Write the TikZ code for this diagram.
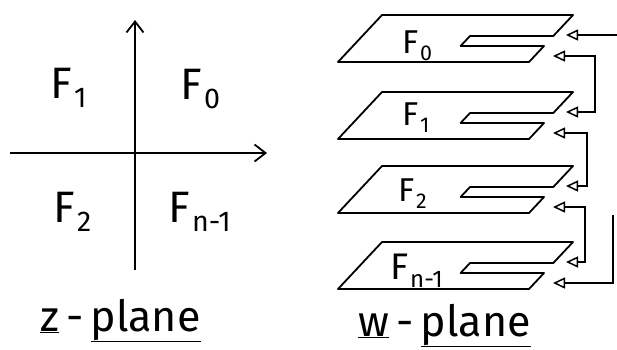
\documentclass[tikz,border=0pt]{standalone}
\usepackage{fontspec}
\usepackage{graphicx}
\setmainfont{Fira Sans}
\usetikzlibrary{arrows.meta}
\newcommand{\FF}[1]{F\kern0.05em\raisebox{-0.22em}{\scalebox{0.65}{#1}}}
\newcommand{\drawsheet}[2]{%
  \coordinate (#1tl) at (382,#2);
  \coordinate (#1tr) at (573,#2);
  \coordinate (#1ra) at (553.3,{#2+21});
  \coordinate (#1sa) at (470,{#2+21});
  \coordinate (#1sb) at (460.6,{#2+31});
  \coordinate (#1rb) at (544,{#2+31});
  \coordinate (#1br) at (529,{#2+47});
  \coordinate (#1bl) at (338,{#2+47});
  \draw[sheet] (#1tl) -- (#1tr) -- (#1ra) -- (#1sa) -- (#1sb) -- (#1rb) -- (#1br) -- (#1bl) -- cycle;
  \coordinate (#1up) at (566,{#2+20});
  \coordinate (#1lo) at (553,{#2+41});
}
\begin{document}
\begin{tikzpicture}[x=1pt,y=-1pt,
  axis/.style={line width=2pt,-{Straight Barb[length=11pt,width=17pt,line width=1.8pt]}},
  sheet/.style={line width=1.8pt,line join=round},
  glue/.style={line width=1.7pt,{Triangle[open,length=12pt,width=11pt,line width=1.5pt]}-{Triangle[open,length=12pt,width=11pt,line width=1.5pt]}},
  feed/.style={line width=1.7pt,-{Triangle[open,length=12pt,width=11pt,line width=1.5pt]}},
  biglab/.style={anchor=base west,inner sep=0pt,font=\fontsize{44}{44}\selectfont},
  smalllab/.style={anchor=base west,inner sep=0pt,font=\fontsize{33}{33}\selectfont},
  caption/.style={anchor=base west,inner sep=0pt,font=\fontsize{43}{50}\selectfont}]
\useasboundingbox (0,0) rectangle (617,349);
\fill[white] (0,0) rectangle (617,349);
% z-plane
\coordinate (yb) at (135,270);
\coordinate (yt) at (135,20);
\coordinate (xl) at (10,153);
\coordinate (xr) at (267,153);
\draw[axis] (yb) -- (yt);
\draw[axis] (xl) -- (xr);
\node[biglab] (zF1) at (50,98) {\FF{1}};
\node[biglab] (zF0) at (180,99) {\FF{0}};
\node[biglab] (zF2) at (53,222) {\FF{2}};
\node[biglab] (zFn) at (168,222) {\FF{n-1}};
\node[caption] (zcap) at (40,331) {\underline{z}\,-\,\underline{plane}};
% w-plane sheets
\drawsheet{s0}{15}
\drawsheet{s1}{92}
\drawsheet{s2}{166}
\drawsheet{s3}{242}
\node[smalllab] (wF0) at (402,53) {\FF{0}};
\node[smalllab] (wF1) at (402,125) {\FF{1}};
\node[smalllab] (wF2) at (398,201) {\FF{2}};
\node[smalllab,font=\fontsize{37}{37}\selectfont] (wFn) at (390,279) {\FF{n-1}};
\node[caption] (wcap) at (358,336) {\underline{w}\,-\,\underline{plane}};
% gluing connectors
\coordinate (in0) at (617,35);
\coordinate (v01) at (595,0);
\coordinate (v12) at (587,0);
\coordinate (v23) at (585,0);
\coordinate (rtop) at (613,215);
\draw[feed] (in0) -- (s0up);
\draw[glue] (s0lo) -| (v01 |- s1up) -- (s1up);
\draw[glue] (s1lo) -| (v12 |- s2up) -- (s2up);
\draw[glue] (s2lo) -| (v23 |- s3up) -- (s3up);
\draw[feed] (rtop) |- (s3lo);
\end{tikzpicture}
\end{document}
